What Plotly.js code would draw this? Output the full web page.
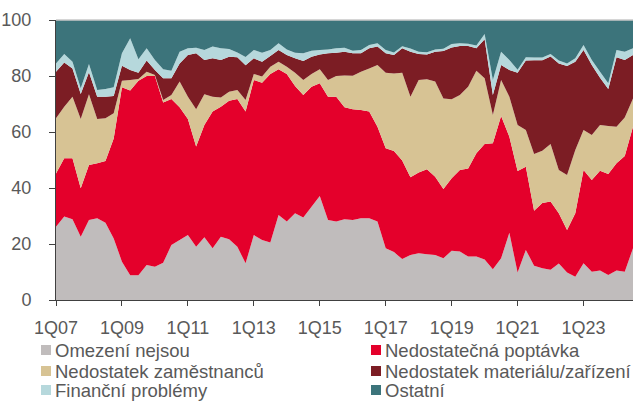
<!DOCTYPE html>
<html>
<head>
<meta charset="utf-8">
<script src="https://cdn.plot.ly/plotly-3.0.1.min.js"></script>
<style>html,body{margin:0;padding:0;background:#fff;}#chart{width:633px;height:401px;}</style>
</head>
<body>
<div id="chart"></div>
<script>
// Quarters 1Q07 .. 3Q24
var quarters = [];
for (var yr = 7; yr <= 24; yr++) {
  for (var q = 1; q <= 4; q++) {
    if (yr === 24 && q > 3) break;
    quarters.push(q + 'Q' + (yr < 10 ? '0' + yr : yr));
  }
}
var tickLabels = ['1Q07','1Q09','1Q11','1Q13','1Q15','1Q17','1Q19','1Q21','1Q23'];
var yTicks = [0, 20, 40, 60, 80, 100];

var omezeni = [26.2,29.8,28.8,22.6,28.6,29.2,27.6,22.0,13.7,8.8,8.8,12.5,11.9,13.3,19.6,21.4,23.2,19.0,22.4,18.5,
  22.6,21.7,19.0,13.1,23.2,21.4,20.5,30.4,28.0,31.0,29.5,33.3,37.1,28.6,28.0,28.8,28.6,29.2,29.2,28.0,
  18.5,17.1,14.6,16.1,16.7,16.3,16.1,14.9,17.6,17.3,15.5,15.5,14.5,11.0,14.9,24.0,9.8,17.9,12.2,11.3,
  10.8,13.0,9.8,8.3,13.1,10.1,10.5,8.9,10.5,10.1,18.5];
var poptavka = [19.0,20.8,21.8,17.3,19.6,19.6,22.0,35.7,62.3,66.0,69.5,67.5,68.1,57.2,52.2,47.4,41.4,35.8,40.1,48.8,
  46.4,49.5,52.8,54.2,55.4,56.2,60.2,52.0,52.7,45.4,43.7,42.9,40.3,44.0,44.6,40.0,39.5,38.7,38.1,33.9,
  35.7,36.1,35.2,27.7,28.8,30.4,27.9,24.7,25.9,29.1,31.5,36.9,41.2,45.0,50.8,34.3,36.3,29.7,19.7,23.3,
  24.4,18.0,15.2,22.7,33.3,32.8,35.7,36.1,38.3,41.3,43.4];
var zamestnanci = [19.7,18.4,22.0,24.7,25.3,15.8,15.3,9.0,2.3,3.8,0.6,1.5,0.4,0.9,1.4,9.2,8.0,13.3,11.0,5.3,
  3.3,3.2,3.2,4.1,2.1,2.2,2.6,2.7,2.6,4.8,5.4,4.5,5.0,6.0,7.4,11.4,12.0,13.6,15.4,22.0,
  27.0,27.7,31.4,28.8,33.1,32.1,34.0,32.4,28.2,26.8,29.2,29.5,23.5,10.1,12.9,14.3,16.4,13.1,20.2,18.7,
  20.5,15.4,19.6,22.6,14.3,16.0,16.3,17.1,13.1,13.8,10.1];
var material = [16.6,15.8,10.1,9.0,7.8,8.0,7.7,6.2,5.4,3.5,2.3,4.0,1.7,7.8,6.0,6.5,14.9,20.0,12.2,13.7,
  13.4,12.5,11.7,12.4,5.6,5.3,3.8,4.2,4.2,5.1,6.8,6.2,5.3,9.5,8.3,8.5,8.0,6.6,7.2,6.6,
  6.9,6.6,8.7,16.1,9.3,8.9,10.7,16.9,18.5,17.5,14.5,8.0,13.9,7.1,5.3,9.5,18.7,24.8,33.5,32.3,
  31.3,38.1,39.0,31.5,28.6,25.0,16.9,13.3,24.8,20.5,15.5];
var financni = [3.0,3.1,2.4,2.0,3.0,2.4,2.8,3.1,4.4,11.4,4.8,4.4,3.6,3.2,2.7,4.2,2.4,2.0,3.6,4.2,
  4.2,2.7,1.7,3.0,3.0,3.2,2.2,2.4,2.0,2.0,2.7,2.1,1.6,1.4,1.6,1.4,0.9,1.2,1.2,1.2,
  1.2,0.9,0.7,1.1,0.8,0.8,0.8,0.8,1.2,1.0,0.8,1.0,1.9,5.4,4.8,3.6,1.0,1.2,1.0,1.0,
  0.9,1.0,0.9,1.2,1.8,1.8,2.1,2.0,2.6,3.0,2.4];
var ostatni = [15.5,12.1,14.9,24.4,15.7,25.0,24.6,24.0,11.9,6.5,14.0,10.1,14.3,17.6,18.1,11.3,10.1,9.9,10.7,9.5,
  10.1,10.4,11.6,13.2,10.7,11.7,10.7,8.3,10.5,11.7,11.9,11.0,10.7,10.5,10.1,9.9,11.0,10.7,8.9,8.3,
  10.7,11.6,9.4,10.2,11.3,11.5,10.5,10.3,8.6,8.3,8.5,9.1,5.0,21.4,11.3,14.3,17.8,13.3,13.4,13.4,
  12.1,14.5,15.5,13.7,8.9,14.3,18.5,22.6,10.7,11.3,10.1];

var seriesNames = ['Omezení nejsou','Nedostatečná poptávka','Nedostatek zaměstnanců',
                   'Nedostatek materiálu/zařízení','Finanční problémy','Ostatní'];
var seriesData = [omezeni, poptavka, zamestnanci, material, financni, ostatni];
var colors = ['#C0BCBC','#E4002B','#D7C394','#7C1D24','#B6D8DC','#3C747B'];

var traces = seriesData.map(function (vals, k) {
  return {
    x: quarters, y: vals, name: seriesNames[k], type: 'scatter',
    mode: 'none', stackgroup: 'one', fill: 'tonexty',
    fillcolor: colors[k], showlegend: false, hoverinfo: 'skip'
  };
});

var fam = 'Liberation Sans, Arial, sans-serif';
var tickFont = {family: fam, size: 18, color: '#595959'};
var legFont = {family: fam, size: 18.5, color: '#595959'};

// manual legend (2 columns x 3 rows), row-major order
var shapes = [];
var annotations = [];
var W = 577, H = 280;
var colX = [41, 371];
var rowY = [350, 371, 390];
for (var k = 0; k < seriesNames.length; k++) {
  var c = k % 2, r = Math.floor(k / 2);
  var px = colX[c], py = rowY[r];
  shapes.push({
    type: 'rect', xref: 'paper', yref: 'paper', line: {width: 0},
    fillcolor: colors[k],
    x0: (px - 56) / W, x1: (px + 10 - 56) / W,
    y0: (300 - (py - 5)) / H, y1: (300 - (py + 5)) / H
  });
  annotations.push({
    xref: 'paper', yref: 'paper', x: (px + 12 - 56) / W, y: (300 - py) / H,
    xanchor: 'left', yanchor: 'middle', text: seriesNames[k], showarrow: false,
    font: legFont
  });
}
shapes.push({type: 'line', xref: 'paper', yref: 'paper', x0: 0, x1: 1, y0: 1, y1: 1,
  line: {color: '#C8C8C8', width: 1.5}});

var layout = {
  width: 633, height: 401,
  margin: {l: 56, r: 0, t: 20, b: 101},
  paper_bgcolor: '#fff', plot_bgcolor: '#fff',
  font: tickFont,
  xaxis: {
    type: 'category', range: [0, quarters.length - 1],
    tickmode: 'array', tickvals: tickLabels, ticktext: tickLabels,
    ticks: 'outside', ticklen: 5, tickcolor: '#404040', tickwidth: 1,
    showline: true, linecolor: '#404040', linewidth: 1,
    showgrid: false, zeroline: false, ticklabelstandoff: 6,
    tickfont: tickFont
  },
  yaxis: {
    range: [0, 100], tickmode: 'array', tickvals: yTicks,
    ticks: 'outside', ticklen: 6, tickcolor: '#404040', tickwidth: 1,
    showline: true, linecolor: '#404040', linewidth: 1,
    showgrid: false, zeroline: false, ticklabelstandoff: 14,
    tickfont: tickFont
  },
  shapes: shapes,
  annotations: annotations,
  showlegend: false
};

Plotly.newPlot('chart', traces, layout, {staticPlot: true, displayModeBar: false});
</script>
</body>
</html>
